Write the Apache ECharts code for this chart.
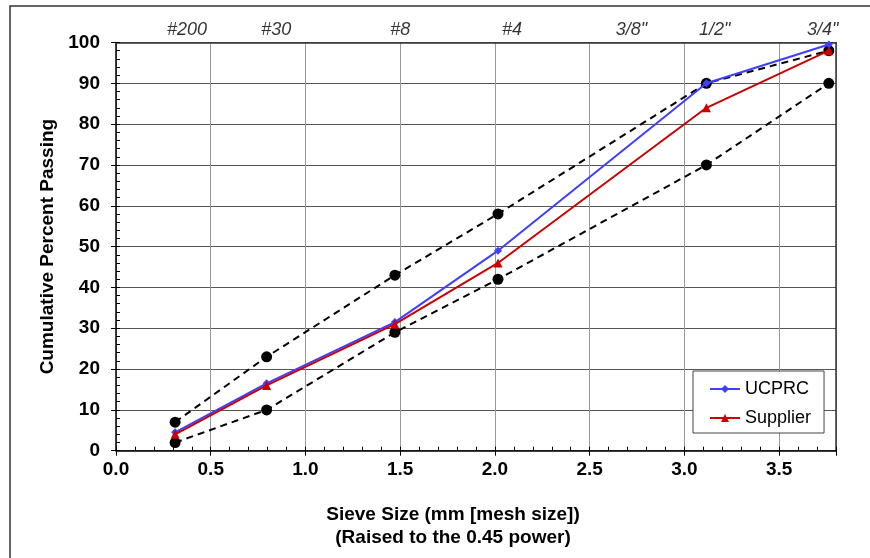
<!DOCTYPE html>
<html>
<head>
<meta charset="utf-8">
<script src="https://cdn.jsdelivr.net/npm/echarts@6/dist/echarts.min.js"></script>
<style>
html,body{margin:0;padding:0;background:#fff;}
#main{width:870px;height:558px;}
</style>
</head>
<body>
<div id="main"></div>
<script>
// Sieve positions (mm raised to 0.45 power)
const sieveNames = ['#200', '#30', '#8', '#4', '1/2"', '3/4"'];
const sieveX = [0.312, 0.795, 1.472, 2.016, 3.116, 3.762];
const ucprc = [4.5, 16.5, 31.5, 49, 90, 99.5];
const supplier = [4, 16, 31, 46, 84, 98];
const upperLimit = [7, 23, 43, 58, 90, 98];
const lowerLimit = [2, 10, 29, 42, 70, 90];
// Top sieve labels
const topLabels = ['#200', '#30', '#8', '#4', '3/8"', '1/2"', '3/4"'];
const topLabelX = [0.375, 0.846, 1.50, 2.09, 2.72, 3.16, 3.73];

const pair = (xs, ys) => xs.map((x, i) => [x, ys[i]]);
const FONT = 'Liberation Sans, Arial, sans-serif';

const chart = echarts.init(document.getElementById('main'), null, {renderer: 'canvas'});
const option = {
  animation: false,
  backgroundColor: '#fff',
  textStyle: {fontFamily: FONT},
  graphic: [{
    type: 'polyline',
    shape: {points: [[10, 600], [10, 6], [900, 6]]},
    style: {stroke: '#333', lineWidth: 1.5, fill: null},
    silent: true
  }],
  grid: {left: 116, right: 34, top: 42.5, bottom: 107.3, containLabel: false},
  legend: {
    data: ['UCPRC', 'Supplier'],
    orient: 'vertical',
    left: 693, top: 371,
    padding: [9, 13, 6, 16],
    itemGap: 11,
    itemWidth: 30, itemHeight: 10,
    backgroundColor: '#fff',
    borderColor: '#444', borderWidth: 1,
    textStyle: {fontSize: 18, color: '#000', fontFamily: FONT}
  },
  xAxis: [{
    type: 'value', position: 'bottom', min: 0, max: 3.8, interval: 0.5,
    name: 'Sieve Size (mm [mesh size])\n(Raised to the 0.45 power)',
    nameLocation: 'middle', nameGap: 53,
    nameTextStyle: {fontSize: 19, fontWeight: 'bold', color: '#000', lineHeight: 23, fontFamily: FONT, padding: [0, 46, 0, 0]},
    axisLine: {show: true, onZero: false, lineStyle: {color: '#000', width: 1.5}},
    axisTick: {show: true, inside: false, length: 5, lineStyle: {color: '#000'}},
    axisLabel: {
      fontSize: 19, fontWeight: 'bold', color: '#000', margin: 10, fontFamily: FONT,
      formatter: v => (Math.abs(v / 0.5 - Math.round(v / 0.5)) < 1e-6 ? v.toFixed(1) : '')
    },
    splitLine: {show: true, lineStyle: {color: '#999', width: 1}}
  }, {
    type: 'value', position: 'top', min: 0, max: 3.8,
    axisLine: {show: true, onZero: false, lineStyle: {color: '#333', width: 1.5}},
    axisTick: {show: false}, axisLabel: {show: false}, splitLine: {show: false}
  }, {
    type: 'value', position: 'bottom', min: 0, max: 3.8, interval: 0.1,
    axisLine: {show: false, onZero: false},
    axisTick: {show: true, inside: true, length: 4, lineStyle: {color: '#000'}},
    axisLabel: {show: false}, splitLine: {show: false}
  }],
  yAxis: [{
    type: 'value', position: 'left', min: 0, max: 100, interval: 10,
    name: 'Cumulative Percent Passing',
    nameLocation: 'middle', nameGap: 57,
    nameTextStyle: {fontSize: 19, fontWeight: 'bold', color: '#000', fontFamily: FONT},
    axisLine: {show: true, onZero: false, lineStyle: {color: '#000', width: 1.5}},
    axisTick: {show: true, inside: false, length: 5, lineStyle: {color: '#000'}},
    axisLabel: {fontSize: 19, fontWeight: 'bold', color: '#000', margin: 16, fontFamily: FONT},
    splitLine: {show: true, lineStyle: {color: '#555', width: 1}}
  }, {
    type: 'value', position: 'right', min: 0, max: 100,
    axisLine: {show: true, onZero: false, lineStyle: {color: '#333', width: 1.5}},
    axisTick: {show: false}, axisLabel: {show: false}, splitLine: {show: false}
  }, {
    type: 'value', position: 'left', min: 0, max: 100, interval: 2,
    axisLine: {show: false, onZero: false},
    axisTick: {show: true, inside: true, length: 4, lineStyle: {color: '#000'}},
    axisLabel: {show: false}, splitLine: {show: false}
  }],
  series: [{
    name: 'Upper', type: 'line', xAxisIndex: 0, yAxisIndex: 0,
    data: pair(sieveX, upperLimit),
    lineStyle: {color: '#000', width: 2, type: [7, 5]},
    symbol: 'circle', symbolSize: 11, itemStyle: {color: '#000'}, z: 3
  }, {
    name: 'Lower', type: 'line', xAxisIndex: 0, yAxisIndex: 0,
    data: pair(sieveX, lowerLimit),
    lineStyle: {color: '#000', width: 2, type: [7, 5]},
    symbol: 'circle', symbolSize: 11, itemStyle: {color: '#000'}, z: 3
  }, {
    name: 'UCPRC', type: 'line', xAxisIndex: 0, yAxisIndex: 0,
    data: pair(sieveX, ucprc),
    lineStyle: {color: '#3F3FFF', width: 2},
    symbol: 'diamond', symbolSize: 8, itemStyle: {color: '#3F3FFF'}, z: 4
  }, {
    name: 'Supplier', type: 'line', xAxisIndex: 0, yAxisIndex: 0,
    data: pair(sieveX, supplier),
    lineStyle: {color: '#CC0000', width: 2},
    symbol: 'triangle', symbolSize: 9, itemStyle: {color: '#CC0000'}, z: 5
  }, {
    name: 'TopLabels', type: 'scatter', xAxisIndex: 0, yAxisIndex: 0,
    data: topLabelX.map((x, i) => ({value: [x, 100], label: {formatter: topLabels[i]}})),
    symbolSize: 0, silent: true, clip: false,
    label: {show: true, position: 'top', distance: 4, fontSize: 18, fontStyle: 'italic', color: '#000', fontFamily: FONT}
  }]
};
chart.setOption(option);
</script>
</body>
</html>
